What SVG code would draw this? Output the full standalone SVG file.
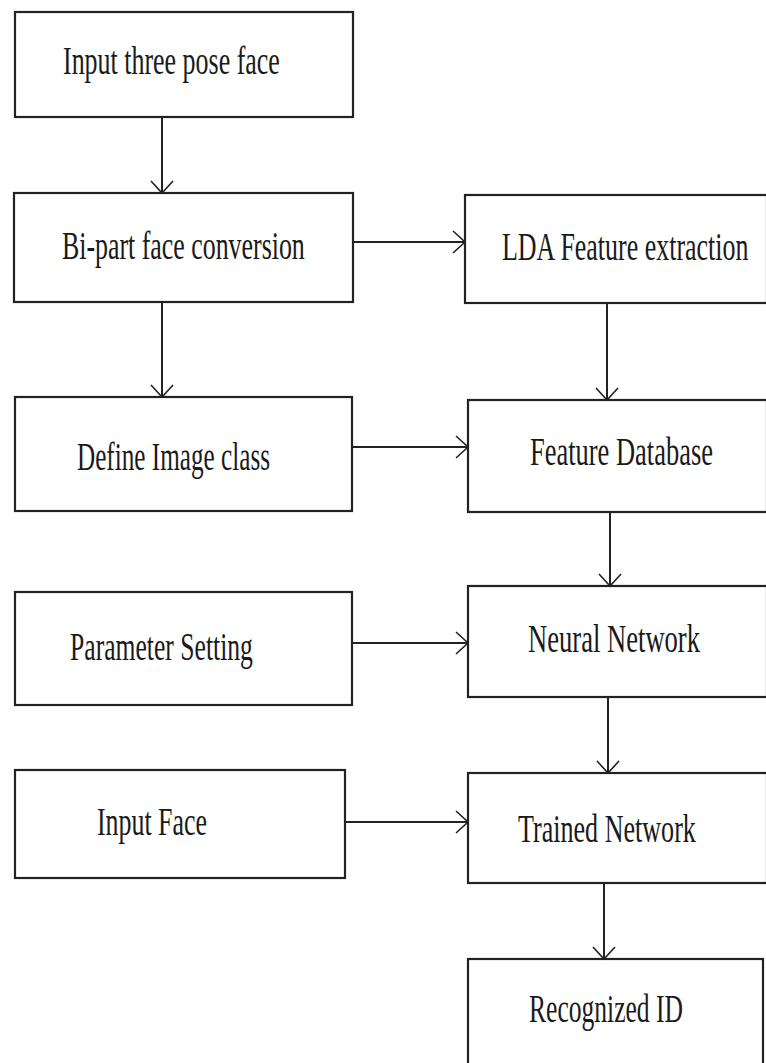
<svg xmlns="http://www.w3.org/2000/svg" width="766" height="1063" viewBox="0 0 766 1063">
<style>
.box{fill:#fff;stroke:#222;stroke-width:2.2}
.lbl{font-family:"Liberation Serif","Times New Roman",serif;font-size:40px;fill:#1a1a1a}
.con{stroke:#222;stroke-width:2;fill:none;marker-end:url(#arr)}
</style>
<defs>
<marker id="arr" markerUnits="userSpaceOnUse" markerWidth="16" markerHeight="24" viewBox="0 0 16 24" refX="14" refY="12" orient="auto">
<path d="M2,1 L14,12 L2,23" fill="none" stroke="#222" stroke-width="1.6"/>
</marker>
</defs>
<rect width="766" height="1063" fill="#fff"/>
<g id="n1"><rect class="box" x="15" y="12" width="338" height="105"/><text class="lbl" transform="translate(63,74) scale(0.649,1)">Input three pose face</text></g>
<g id="n2"><rect class="box" x="14" y="193" width="339" height="109"/><text class="lbl" transform="translate(62,259) scale(0.647,1)">Bi-part face conversion</text></g>
<g id="n3"><rect class="box" x="465" y="195" width="302" height="108"/><text class="lbl" transform="translate(502,260) scale(0.649,1)">LDA Feature extraction</text></g>
<g id="n4"><rect class="box" x="15" y="397" width="337" height="114"/><text class="lbl" transform="translate(77,470) scale(0.63,1)">Define Image class</text></g>
<g id="n5"><rect class="box" x="468" y="400" width="299" height="112"/><text class="lbl" transform="translate(530,465) scale(0.662,1)">Feature Database</text></g>
<g id="n6"><rect class="box" x="15" y="592" width="337" height="113"/><text class="lbl" transform="translate(70,660) scale(0.641,1)">Parameter Setting</text></g>
<g id="n7"><rect class="box" x="468" y="586" width="299" height="111"/><text class="lbl" transform="translate(528,652) scale(0.665,1)">Neural Network</text></g>
<g id="n8"><rect class="box" x="15" y="770" width="330" height="108"/><text class="lbl" transform="translate(97,835) scale(0.647,1)">Input Face</text></g>
<g id="n9"><rect class="box" x="468" y="773" width="299" height="110"/><text class="lbl" transform="translate(518,842) scale(0.652,1)">Trained Network</text></g>
<g id="n10"><rect class="box" x="468" y="959" width="295" height="110"/><text class="lbl" transform="translate(529,1022) scale(0.639,1)">Recognized ID</text></g>
<g id="connectors">
<line class="con" x1="162" y1="117" x2="162" y2="193"/>
<line class="con" x1="162" y1="302" x2="162" y2="397"/>
<line class="con" x1="353" y1="242" x2="465" y2="242"/>
<line class="con" x1="607" y1="303" x2="607" y2="400"/>
<line class="con" x1="352" y1="447" x2="468" y2="447"/>
<line class="con" x1="610" y1="512" x2="610" y2="586"/>
<line class="con" x1="352" y1="643" x2="468" y2="643"/>
<line class="con" x1="608" y1="697" x2="608" y2="773"/>
<line class="con" x1="345" y1="822" x2="468" y2="822"/>
<line class="con" x1="604" y1="883" x2="604" y2="959"/>
</g>
</svg>
